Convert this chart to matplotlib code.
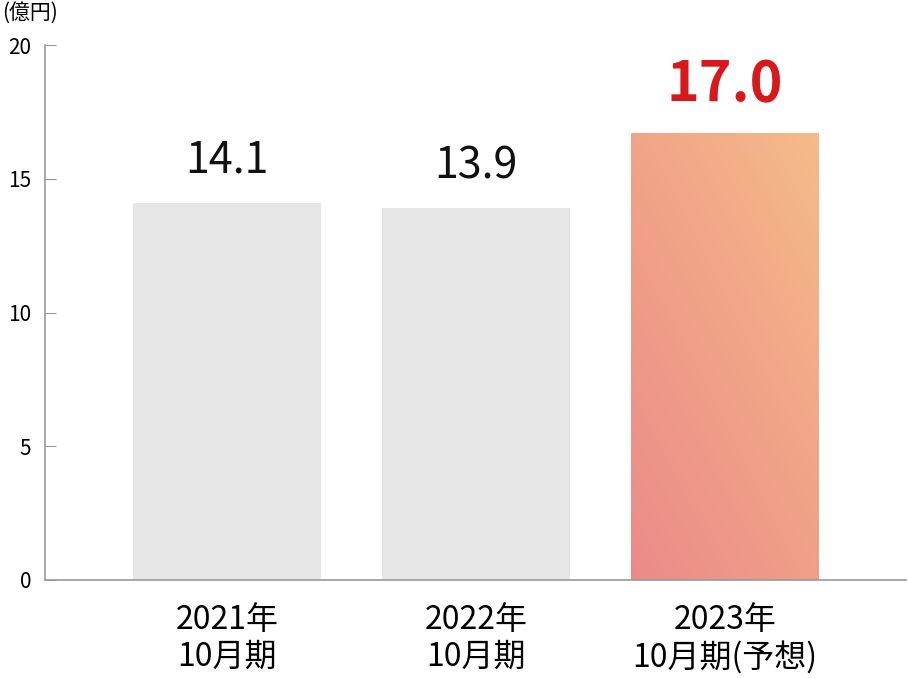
import matplotlib.pyplot as plt
import numpy as np
from matplotlib.colors import LinearSegmentedColormap

plt.rcParams['font.family'] = ['Noto Sans CJK JP', 'DejaVu Sans']

# データ
categories = ['2021年\n10月期', '2022年\n10月期', '2023年\n10月期(予想)']
values = [14.1, 13.9, 16.7]
value_labels = ['14.1', '13.9', '17.0']
yticks = [0, 5, 10, 15, 20]

fig = plt.figure(figsize=(9.08, 6.78), dpi=100)
ax = fig.add_axes([45/908, 98/678, 861/908, 535/678])

x = np.arange(len(categories))
w = 0.755
bars = ax.bar(x[:2], values[:2], width=w, color='#e6e6e6', zorder=2)

# グラデーションの棒（予想）
grad = LinearSegmentedColormap.from_list('g', ['#ec8a8a', '#f0a287', '#f5bb8a'])
gx, gy = np.meshgrid(np.linspace(0, 1, 100), np.linspace(0, 1, 100))
z = gx * 0.45 + gy * 0.55
b3 = ax.bar(x[2], values[2], width=w, color='none', zorder=2)[0]
im = ax.imshow(z, cmap=grad, origin='lower', aspect='auto', zorder=2,
               extent=[x[2] - w/2, x[2] + w/2, 0, values[2]])
im.set_clip_path(b3)

for i in range(2):
    ax.text(x[i], values[i] + 0.75, value_labels[i], ha='center', va='bottom',
            fontsize=31, color='#111111')
ax.text(x[2], values[2] + 0.75, value_labels[2], ha='center', va='bottom',
        fontsize=40, fontweight='bold', color='#d7191c')

ax.set_xlim(-0.731, 2.727)
ax.set_ylim(0, 20)
ax.set_yticks(yticks)
ax.set_yticklabels([str(t) for t in yticks], fontsize=15)
ax.set_xticks(x)
ax.set_xticklabels(categories, fontsize=23, linespacing=1.2)
ax.tick_params(axis='x', length=0, pad=17)
ax.tick_params(axis='y', direction='in', length=8, color='#999999', pad=10)
for s in ['top', 'right']:
    ax.spines[s].set_visible(False)
for s in ['left', 'bottom']:
    ax.spines[s].set_color('#999999')
    ax.spines[s].set_linewidth(1.2)

fig.text(2/908, 1 - 13/678, '(億円)', fontsize=15, va='center', ha='left')

fig.savefig('out.png', dpi=100)
